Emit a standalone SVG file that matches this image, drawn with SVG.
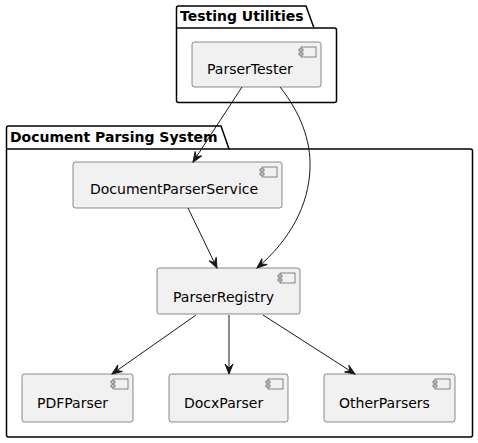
<svg xmlns="http://www.w3.org/2000/svg" width="478" height="443" viewBox="0 0 478 443">
<defs>
<style>
.pkg{fill:none;stroke:#000;stroke-width:1.5;}
.pt{font-family:"DejaVu Sans",sans-serif;font-size:14px;font-weight:bold;fill:#000;}
.box{fill:#F1F1F1;stroke:#181818;stroke-width:0.5;}
.lbl{font-family:"DejaVu Sans",sans-serif;font-size:14px;fill:#000;}
.ic{fill:#F1F1F1;stroke:#181818;stroke-width:0.5;}
.edge{fill:none;stroke:#181818;stroke-width:1;}
</style>
<marker id="ah" viewBox="0 0 12 10" refX="11" refY="5" markerWidth="12" markerHeight="10" markerUnits="userSpaceOnUse" orient="auto">
<path d="M1,1 L11,5 L1,9 L5,5 Z" fill="#181818" stroke="#181818" stroke-width="1"/>
</marker>
</defs>
<rect width="478" height="443" fill="#fff"/>
<g id="pkg-testing">
<path class="pkg" d="M178.5,6 L306,6 L314,28 L334.5,28 Q336.5,28 336.5,30 L336.5,100.5 Q336.5,102.5 334.5,102.5 L178.5,102.5 Q176.5,102.5 176.5,100.5 L176.5,8 Q176.5,6 178.5,6 Z"/>
<line class="pkg" x1="176.5" y1="28" x2="314" y2="28"/>
<text class="pt" x="180" y="21">Testing Utilities</text>
</g>
<g id="pkg-docparsing">
<path class="pkg" d="M8.5,126 L221,126 L229,149 L470.5,149 Q472.5,149 472.5,151 L472.5,435 Q472.5,437 470.5,437 L8.5,437 Q6.5,437 6.5,435 L6.5,128 Q6.5,126 8.5,126 Z"/>
<line class="pkg" x1="6.5" y1="149" x2="229" y2="149"/>
<text class="pt" x="10" y="142">Document Parsing System</text>
</g>
<g id="ParserTester">
<rect class="box" x="192" y="42" width="129" height="45" rx="2.5"/>
<rect class="ic" x="301" y="47" width="15" height="10"/>
<rect class="ic" x="299" y="49" width="4" height="2"/>
<rect class="ic" x="299" y="53" width="4" height="2"/>
<text class="lbl" x="207" y="74">ParserTester</text>
</g>
<g id="DocumentParserService">
<rect class="box" x="73" y="162" width="209" height="46" rx="2.5"/>
<rect class="ic" x="262" y="167" width="15" height="10"/>
<rect class="ic" x="260" y="169" width="4" height="2"/>
<rect class="ic" x="260" y="173" width="4" height="2"/>
<text class="lbl" x="90" y="194">DocumentParserService</text>
</g>
<g id="ParserRegistry">
<rect class="box" x="157" y="268" width="143" height="46" rx="2.5"/>
<rect class="ic" x="280" y="273" width="15" height="10"/>
<rect class="ic" x="278" y="275" width="4" height="2"/>
<rect class="ic" x="278" y="279" width="4" height="2"/>
<text class="lbl" x="173" y="302">ParserRegistry</text>
</g>
<g id="PDFParser">
<rect class="box" x="22" y="374" width="111" height="48" rx="2.5"/>
<rect class="ic" x="113" y="379" width="15" height="10"/>
<rect class="ic" x="111" y="381" width="4" height="2"/>
<rect class="ic" x="111" y="385" width="4" height="2"/>
<text class="lbl" x="37" y="408">PDFParser</text>
</g>
<g id="DocxParser">
<rect class="box" x="169" y="374" width="119" height="48" rx="2.5"/>
<rect class="ic" x="268" y="379" width="15" height="10"/>
<rect class="ic" x="266" y="381" width="4" height="2"/>
<rect class="ic" x="266" y="385" width="4" height="2"/>
<text class="lbl" x="184" y="408">DocxParser</text>
</g>
<g id="OtherParsers">
<rect class="box" x="324" y="374" width="131" height="48" rx="2.5"/>
<rect class="ic" x="435" y="379" width="15" height="10"/>
<rect class="ic" x="433" y="381" width="4" height="2"/>
<rect class="ic" x="433" y="385" width="4" height="2"/>
<text class="lbl" x="339" y="408">OtherParsers</text>
</g>
<g id="connectors">
<path class="edge" marker-end="url(#ah)" d="M242,87 L193,162"/>
<path class="edge" marker-end="url(#ah)" d="M280,87 C300,112 311,140 310,168 C309,205 290,240 257,268"/>
<path class="edge" marker-end="url(#ah)" d="M188,208 L217,268"/>
<path class="edge" marker-end="url(#ah)" d="M196,315 L112,374"/>
<path class="edge" marker-end="url(#ah)" d="M229,315 L229,374"/>
<path class="edge" marker-end="url(#ah)" d="M263,315 L355,374"/>
</g>
</svg>
